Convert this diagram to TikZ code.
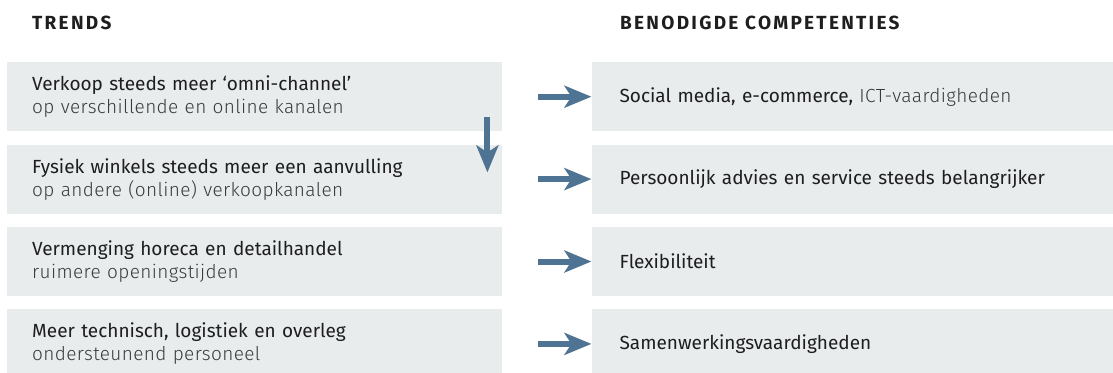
\documentclass[tikz,border=0pt]{standalone}
\usepackage{fontspec}
\setmainfont{Fira Sans}
\newfontfamily\lightfont[LetterSpace=2]{Fira Sans Light}
\newfontfamily\headfont[LetterSpace=12]{Fira Sans}
\usetikzlibrary{arrows.meta,positioning}
\definecolor{boxgray}{HTML}{E8ECED}
\definecolor{arrowblue}{HTML}{4F7393}
\definecolor{textdark}{HTML}{1E1E1E}
\definecolor{textgray}{HTML}{3A3A3A}
\newcommand{\second}[1]{{\lightfont\color{textgray}#1}}

\begin{document}
\begin{tikzpicture}[x=1pt,y=-1pt,node distance=13pt and 89pt,
    box/.style={fill=boxgray,minimum height=69pt,inner ysep=0pt,align=left,
      font=\fontsize{19}{23}\selectfont,text=textdark},
    trend/.style={box,text width=445pt,inner xsep=25pt},
    comp/.style={box,text width=466pt,inner xsep=28pt},
    head/.style={anchor=base west,inner sep=0pt,text=textdark,
      font=\headfont\bfseries\fontsize{19}{20}\selectfont},
    flow/.style={-{Stealth[length=27pt,width=22pt,inset=7pt]},line width=6pt,draw=arrowblue}]

  \useasboundingbox (0,0) rectangle (1113,372);

  \node[head] (trendhead) at (32,29) {TRENDS};
  \node[head] (comphead) at (620,29) {BENODIGDE COMPETENTIES};

  \node[trend,anchor=north west] (t1) at (7,62) {Verkoop steeds meer `omni-channel'\\\second{op verschillende en online kanalen}};
  \node[trend] (t2) [below=of t1] {Fysiek winkels steeds meer een aanvulling\\\second{op andere (online) verkoopkanalen}};
  \node[trend] (t3) [below=of t2] {Vermenging horeca en detailhandel\\\second{ruimere openingstijden}};
  \node[trend] (t4) [below=of t3] {Meer technisch, logistiek en overleg\\\second{ondersteunend personeel}};

  \node[comp] (c1) [right=of t1] {Social media, e-commerce, \second{ICT-vaardigheden}};
  \node[comp] (c2) [right=of t2] {Persoonlijk advies en service steeds belangrijker};
  \node[comp] (c3) [right=of t3] {Flexibiliteit};
  \node[comp] (c4) [right=of t4] {Samenwerkingsvaardigheden};

  \draw[flow,shorten <=36pt] (t1) -- (c1);
  \draw[flow,shorten <=36pt] (t2) -- (c2);
  \draw[flow,shorten <=36pt] (t3) -- (c3);
  \draw[flow,shorten <=36pt] (t4) -- (c4);
  \draw[flow] ([xshift=-15pt,yshift=14pt]t1.south east) -- ([xshift=-15pt,yshift=-28pt]t2.north east);
\end{tikzpicture}
\end{document}
